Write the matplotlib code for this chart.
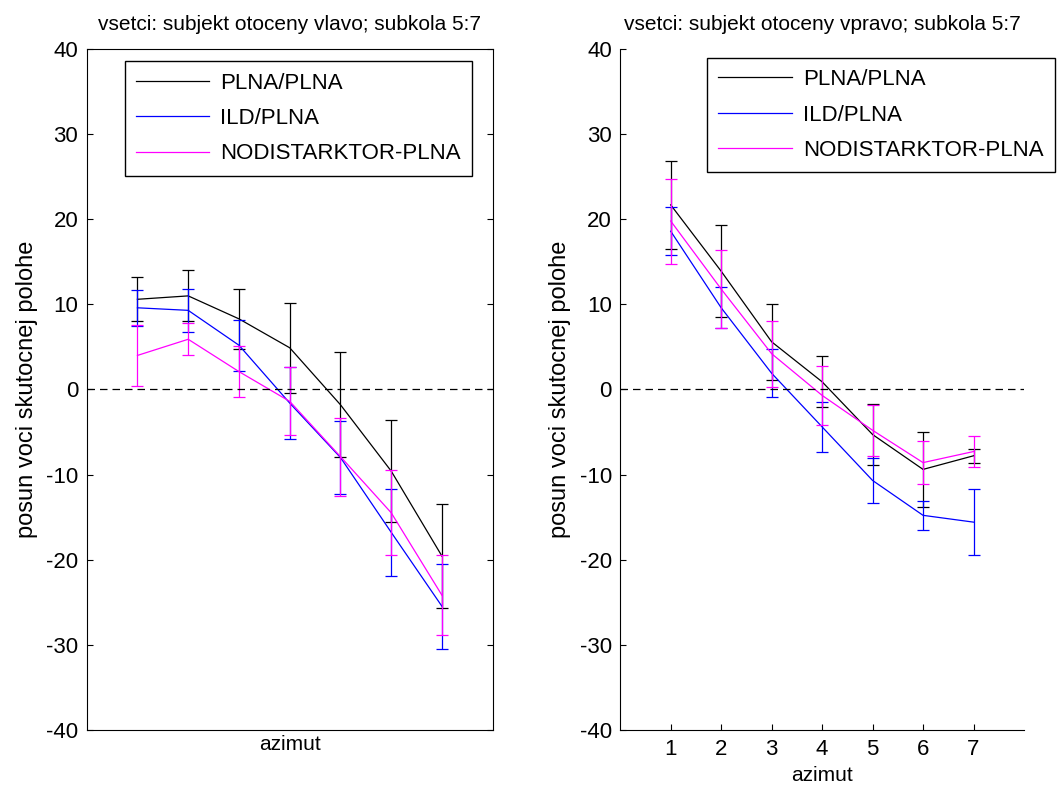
import matplotlib
matplotlib.use('Agg')
import matplotlib.pyplot as plt

plt.rcParams['font.family'] = ['Liberation Sans', 'DejaVu Sans']
plt.rcParams['axes.unicode_minus'] = False

azimut = [1, 2, 3, 4, 5, 6, 7]
labels = ['PLNA/PLNA', 'ILD/PLNA', 'NODISTARKTOR-PLNA']
colors = ['black', '#0000ff', '#ff00ff']

# left: subjekt otoceny vlavo
plna_L = [10.6, 11.0, 8.3, 4.9, -1.8, -9.6, -19.6]
plna_L_err = [2.6, 3.0, 3.5, 5.3, 6.2, 6.0, 6.1]
ild_L = [9.6, 9.3, 5.2, -1.6, -8.0, -16.8, -25.5]
ild_L_err = [2.1, 2.5, 3.0, 4.2, 4.3, 5.1, 5.0]
nod_L = [4.0, 5.9, 2.1, -1.4, -7.9, -14.5, -24.2]
nod_L_err = [3.6, 1.9, 3.0, 4.0, 4.6, 5.0, 4.7]

# right: subjekt otoceny vpravo
plna_R = [21.7, 13.9, 5.6, 0.9, -5.3, -9.4, -7.8]
plna_R_err = [5.2, 5.4, 4.5, 3.0, 3.6, 4.4, 0.85]
ild_R = [18.6, 9.6, 1.9, -4.4, -10.7, -14.8, -15.6]
ild_R_err = [2.8, 2.4, 2.8, 2.9, 2.6, 1.7, 3.9]
nod_R = [19.8, 11.8, 4.2, -0.7, -4.8, -8.6, -7.3]
nod_R_err = [5.0, 4.6, 3.9, 3.5, 3.0, 2.5, 1.8]

fig = plt.figure(figsize=(10.61, 7.89), dpi=100)
ax1 = fig.add_axes([0.0817, 0.0752, 0.3827, 0.8624])
ax2 = fig.add_axes([0.5846, 0.0752, 0.3805, 0.8624])

panels = [
    (ax1, [plna_L, ild_L, nod_L], [plna_L_err, ild_L_err, nod_L_err],
     'vsetci: subjekt otoceny vlavo; subkola 5:7', (0.094, 0.982)),
    (ax2, [plna_R, ild_R, nod_R], [plna_R_err, ild_R_err, nod_R_err],
     'vsetci: subjekt otoceny vpravo; subkola 5:7', (0.2155, 0.987)),
]

for ax, series, errs, title, leg_pos in panels:
    for y, e, c, lab in zip(series, errs, colors, labels):
        ax.errorbar(azimut, y, yerr=e, fmt='none', ecolor=c, elinewidth=0.9,
                    capsize=4, capthick=0.9)
        ax.plot(azimut, y, color=c, lw=0.9, label=lab)
    ax.axhline(0, color='black', lw=0.9, dashes=(6, 4))
    ax.set_xlim(0, 8)
    ax.set_ylim(-40, 40)
    ax.set_yticks(range(-40, 41, 10))
    ax.set_title(title, fontsize=15, pad=14)
    ax.set_ylabel('posun voci skutocnej polohe', fontsize=17, labelpad=6)
    ax.set_xlabel('azimut', fontsize=15)
    ax.tick_params(direction='in', length=4, labelsize=16, width=0.8)
    ax.tick_params(axis='y', pad=6)
    ax.tick_params(axis='x', pad=7)
    leg = ax.legend(loc='upper left', bbox_to_anchor=leg_pos, borderaxespad=0,
                    fontsize=16, fancybox=False, framealpha=1, edgecolor='black',
                    handlelength=3.3, handletextpad=0.5, labelspacing=0.65,
                    borderpad=0.5)
    leg.get_frame().set_linewidth(1.0)
    leg.set_clip_on(False)

ax1.set_xticks([])
ax1.tick_params(right=True, top=True)
ax2.set_xticks(azimut)
ax2.spines['top'].set_visible(False)
ax2.spines['right'].set_visible(False)

fig.savefig('out.png', dpi=100)
